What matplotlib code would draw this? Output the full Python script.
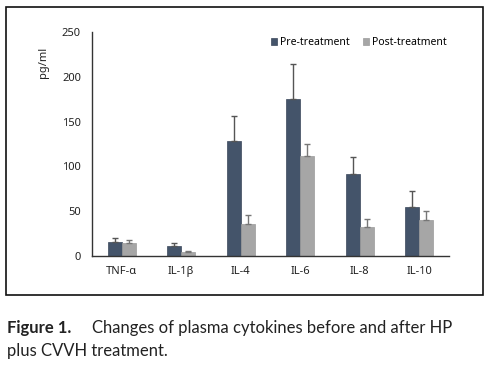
import matplotlib
matplotlib.use("Agg")
import matplotlib.pyplot as plt
import numpy as np
from matplotlib.patches import Rectangle

categories = ["TNF-α", "IL-1β", "IL-4", "IL-6", "IL-8", "IL-10"]
pre = [15.6, 11, 128, 175, 92, 55]
pre_err = [4.5, 3.5, 28, 39, 18, 18]
post = [14, 4, 36, 112, 32, 40]
post_err = [4, 1.5, 10, 13, 9, 10]
yticks = [0, 50, 100, 150, 200, 250]

plt.rcParams['font.family'] = ['Noto Sans', 'DejaVu Sans']

fig = plt.figure(figsize=(4.91, 3.67), dpi=100)
ax = fig.add_axes([92/491, 1-256/367, (449-92)/491, (256-32)/367])

x = np.arange(len(categories))
w = 0.235
c_pre = "#44546A"
c_post = "#A6A6A6"
ax.bar(x - w/2, pre, w, color=c_pre, edgecolor="#3a475a", linewidth=0.5,
       yerr=[np.zeros(len(pre)), pre_err], capsize=2.5,
       error_kw=dict(ecolor="#555555", elinewidth=1, capthick=1), label="Pre-treatment")
ax.bar(x + w/2, post, w, color=c_post, edgecolor="#9a9a9a", linewidth=0.5,
       yerr=[np.zeros(len(post)), post_err], capsize=2.5,
       error_kw=dict(ecolor="#777777", elinewidth=1, capthick=1), label="Post-treatment")

ax.set_xlim(-0.5, len(categories) - 0.5)
ax.set_ylim(0, 250)
ax.set_yticks(yticks)
ax.set_xticks(x)
ax.set_xticklabels(categories)
ax.tick_params(axis='both', length=0, labelsize=8, colors="#222222")
ax.tick_params(axis='y', pad=8)
ax.tick_params(axis='x', pad=7)
for s in ["top", "right"]:
    ax.spines[s].set_visible(False)
for s in ["left", "bottom"]:
    ax.spines[s].set_color("#333333")
    ax.spines[s].set_linewidth(1)

fig.text(43/491, 1-62/367, "pg/ml", rotation=90, ha="center", va="center",
         fontsize=8, color="#222222")

ax.legend(loc="upper right", bbox_to_anchor=(451/491, 1-33/367), bbox_transform=fig.transFigure,
          ncol=2, frameon=False, fontsize=7.5, handlelength=0.6, handleheight=0.6,
          handletextpad=0.3, columnspacing=1.2, borderaxespad=0)

fig.patches.append(Rectangle((6/491, 1-295/367), (483-6)/491, (295-7)/367,
                             transform=fig.transFigure, fill=False, edgecolor="#111111",
                             linewidth=1.2))

cap_font = ["Lato", "DejaVu Sans"]
fig.text(7/491, 1-328/367, "Figure 1.", fontsize=12, fontweight="bold",
         family=cap_font, va="center", ha="left", color="#222222")
fig.text(92/491, 1-328/367, "Changes of plasma cytokines before and after HP",
         fontsize=12, family=cap_font, va="center", ha="left", color="#222222")
fig.text(7/491, 1-351/367, "plus CVVH treatment.",
         fontsize=12, family=cap_font, va="center", ha="left", color="#222222")

fig.savefig("out.png", dpi=100)
